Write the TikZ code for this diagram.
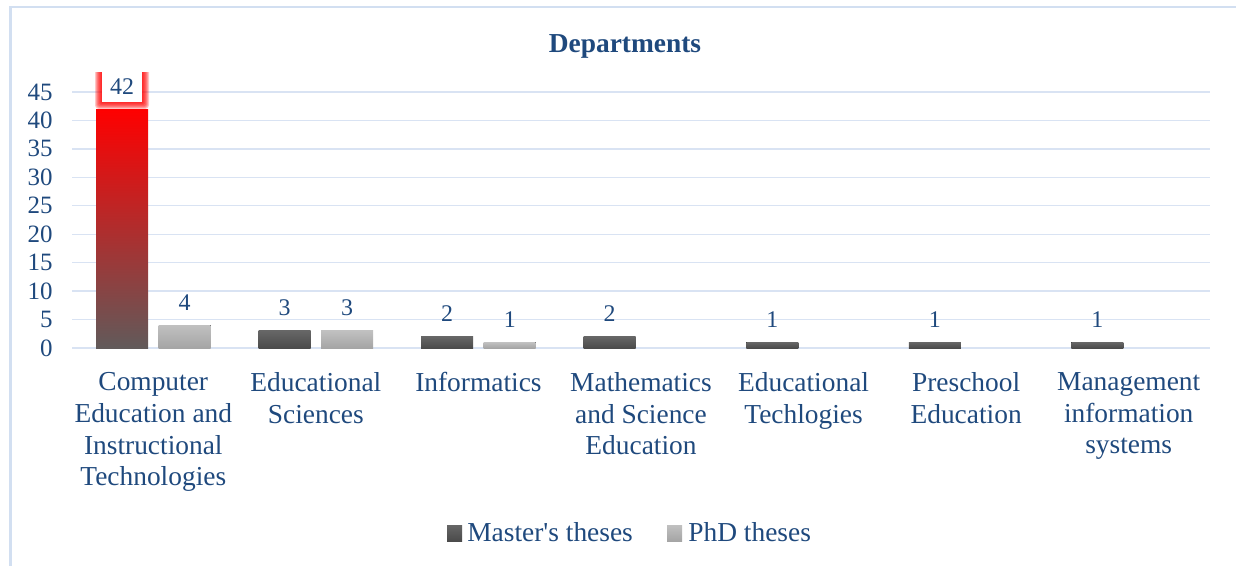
\documentclass[tikz,border=0pt]{standalone}
\usepackage{fontspec}
\setmainfont{Liberation Serif}
\newfontfamily\legfont{Liberation Serif}
\usepackage{xcolor}
\usepackage{tikz}
\usetikzlibrary{positioning,calc}

\definecolor{txtblue}{HTML}{1F497D}
\definecolor{gridblue}{HTML}{D9E3F3}
\definecolor{frameblue}{HTML}{D2DFF1}
\definecolor{redbottom}{HTML}{615A5A}
\definecolor{mastertop}{HTML}{666666}
\definecolor{masterbot}{HTML}{4B4B4B}
\definecolor{phdtop}{HTML}{C0C0C0}
\definecolor{phdbot}{HTML}{A5A5A5}

\tikzset{
  catlabel/.style={anchor=north,align=center,text=txtblue,inner sep=0pt,
    font=\fontsize{15.6}{18.1}\selectfont},
  ticklabel/.style={anchor=east,text=txtblue,inner sep=0pt,
    font=\fontsize{14.2}{16}\selectfont},
  vallabel/.style={text=txtblue,inner sep=0pt,font=\fontsize{13.6}{16}\selectfont},
  masterbar/.style={top color=mastertop,bottom color=masterbot},
  phdbar/.style={top color=phdtop,bottom color=phdbot},
  legtext/.style={anchor=base west,text=txtblue,inner sep=0pt,
    font=\legfont\fontsize{15.6}{18}\selectfont}
}

\begin{document}
\begin{tikzpicture}[x=0.02cm,y=-0.02cm]
\useasboundingbox (0,0) rectangle (1236,566);

% Chart frame
\draw[frameblue,line width=1.2pt] (1236,7) -- (10.5,7) -- (10.5,566);

% Title
\node[anchor=base,text=txtblue,font=\bfseries\fontsize{15.6}{18}\selectfont] (title) at (625,52) {Departments};

% Gridlines and value axis
\foreach \v in {0,5,...,45} {
  \pgfmathsetmacro{\yy}{348-5.69*\v}
  \draw[gridblue,line width=0.8pt] (72,\yy) -- (1210,\yy);
  \node[ticklabel] (tick\v) at (53,\yy) {\v};
}

% Highlighted bar (42)
\fill[top color=red,bottom color=redbottom] (96,109) rectangle (148,348);
\begin{scope}
  \clip (80,72) rectangle (165,120);
  \foreach \i in {1,...,7}
    \fill[red,opacity=0.22,rounded corners=\i*0.3pt] (102-\i,72-\i) rectangle (142+\i,102+\i);
\end{scope}
\fill[white] (102,72) rectangle (142,102);
\node[vallabel] (mv1) at (122,87) {42};

% Remaining bars
\foreach \c/\mv/\pv in {1/42/4, 2/3/3, 3/2/1, 4/2/0, 5/1/0, 6/1/0, 7/1/0} {
  \pgfmathsetmacro{\cx}{72+162.57*(\c-0.5)}
  \pgfmathsetmacro{\mtop}{348-5.69*\mv}
  \pgfmathsetmacro{\ptop}{348-5.69*\pv}
  \ifnum\c>1
    \fill[masterbar] (\cx-57.3,\mtop) rectangle (\cx-5.3,348);
    \node[vallabel] (mv\c) at (\cx-31.3,\mtop-23) {\mv};
  \fi
  \ifnum\pv>0
    \fill[phdbar] (\cx+5.3,\ptop) rectangle (\cx+57.3,348);
    \node[vallabel] (pv\c) at (\cx+31.3,\ptop-23) {\pv};
  \fi
}

% Category labels
\foreach \c/\txt in {1/{Computer\\Education and\\Instructional\\Technologies},
    2/{Educational\\Sciences}, 3/{Informatics},
    4/{Mathematics\\and Science\\Education}, 5/{Educational\\Techlogies},
    6/{Preschool\\Education}, 7/{Management\\information\\systems}} {
  \pgfmathsetmacro{\cx}{72+162.57*(\c-0.5)}
  \node[catlabel] (cat\c) at (\cx,372) {\txt};
}

% Legend
\fill[masterbar] (447,525) rectangle (462,541);
\node[legtext] (legm) at (467,541) {Master's theses};
\fill[phdbar] (667,525) rectangle (682,541);
\node[legtext] (legp) at (688,541) {PhD theses};
\end{tikzpicture}
\end{document}
